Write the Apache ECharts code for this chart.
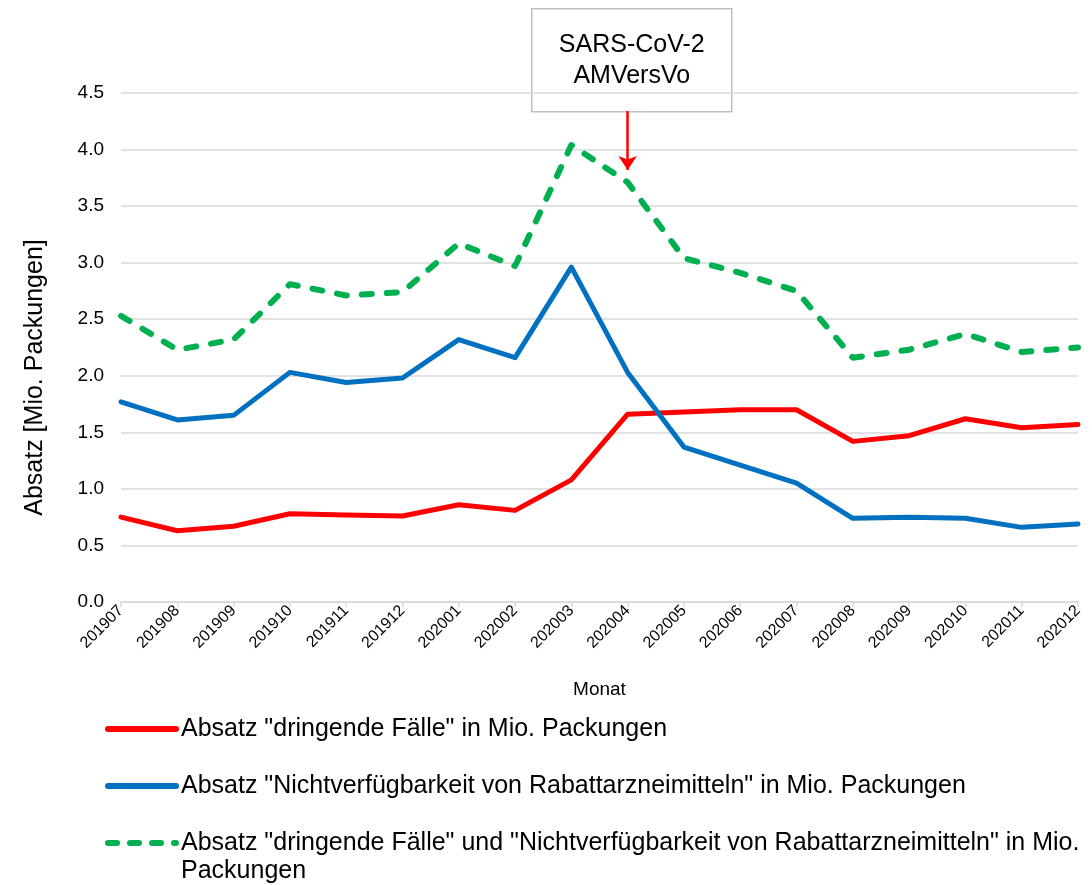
<!DOCTYPE html>
<html>
<head>
<meta charset="utf-8">
<script src="https://cdn.jsdelivr.net/npm/echarts@6/dist/echarts.min.js"></script>
<style>html,body{margin:0;padding:0;background:#fff;}#c{width:1092px;height:885px;}</style>
</head>
<body>
<div id="c"></div>
<script>
const months = ['201907','201908','201909','201910','201911','201912','202001','202002','202003','202004','202005','202006','202007','202008','202009','202010','202011','202012'];
const dringend = [0.75,0.63,0.67,0.78,0.77,0.76,0.86,0.81,1.08,1.66,1.68,1.70,1.70,1.42,1.47,1.62,1.54,1.57];
const nichtverf = [1.77,1.61,1.65,2.03,1.94,1.98,2.32,2.16,2.96,2.03,1.37,1.21,1.05,0.74,0.75,0.74,0.66,0.69];
const gesamt = [2.53,2.23,2.32,2.81,2.71,2.74,3.17,2.97,4.04,3.71,3.04,2.91,2.75,2.16,2.23,2.37,2.21,2.25];
const yTicks = ['0.0','0.5','1.0','1.5','2.0','2.5','3.0','3.5','4.0','4.5'];
const names = ['Absatz "dringende Fälle" in Mio. Packungen',
  'Absatz "Nichtverfügbarkeit von Rabattarzneimitteln" in Mio. Packungen',
  'Absatz "dringende Fälle" und "Nichtverfügbarkeit von Rabattarzneimitteln" in Mio. Packungen'];
const annotText = 'SARS-CoV-2\nAMVersVo';
const annotMonth = '202004';
const arrowFrom = 4.34, arrowTo = 3.82;

const FONT = '"Liberation Sans", Arial, sans-serif';
const chart = echarts.init(document.getElementById('c'), null, {renderer: 'canvas'});
const legendText = {fontFamily: FONT, fontSize: 25, color: '#000', lineHeight: 28};
function mkLegend(name, top, extra, dashed) {
  return Object.assign({
    data: [name], left: 105, top: top, orient: 'vertical', padding: 0,
    itemWidth: 68, itemHeight: 6, itemGap: 0, textStyle: legendText, selectedMode: false,
    itemStyle: {opacity: 0},
    lineStyle: {width: 6, cap: 'round', type: dashed ? [9, 13] : 'solid'}
  }, extra || {});
}
chart.setOption({
  animation: false,
  grid: {left: 121, right: 14, top: 93, bottom: 283, containLabel: false},
  xAxis: {
    type: 'category', data: months, boundaryGap: false,
    name: 'Monat', nameLocation: 'middle', nameGap: 78,
    nameTextStyle: {fontFamily: FONT, fontSize: 19, color: '#000'},
    axisLine: {lineStyle: {color: '#d9d9d9', width: 1.5}},
    axisTick: {show: true, length: 5, lineStyle: {color: '#d9d9d9', width: 1.5}},
    axisLabel: {rotate: 45, fontFamily: FONT, fontSize: 16, color: '#000', margin: 6, interval: 0}
  },
  yAxis: {
    type: 'value', min: 0, max: 4.5, interval: 0.5,
    name: 'Absatz [Mio. Packungen]', nameLocation: 'middle', nameRotate: 90, nameGap: 73,
    nameTextStyle: {fontFamily: FONT, fontSize: 25, color: '#000', padding: [0, 60, 0, 0]},
    axisLine: {show: false}, axisTick: {show: false},
    axisLabel: {fontFamily: FONT, fontSize: 19, color: '#000', margin: 17,
      formatter: (v) => yTicks[Math.round(v / 0.5)] || v.toFixed(1)},
    splitLine: {lineStyle: {color: '#d9d9d9', width: 1.5}}
  },
  legend: [
    mkLegend(names[0], 715),
    mkLegend(names[1], 772),
    mkLegend(names[2], 801, {
      formatter: (n) => '\n' + n.replace(' in Mio. Packungen', ' in Mio.\nPackungen')
    }, true)
  ],
  series: [
    {name: names[0], type: 'line', data: dringend, symbol: 'none', color: '#ff0000',
      lineStyle: {color: '#ff0000', width: 5, cap: 'round', join: 'round'},
      markLine: {silent: true, symbol: ['none', 'arrow'], symbolSize: [14, 14],
        label: {show: false}, emphasis: {disabled: true},
        lineStyle: {color: '#ff0000', width: 2.5, type: 'solid'},
        data: [[{coord: [annotMonth, arrowFrom]}, {coord: [annotMonth, arrowTo]}]]}},
    {name: names[1], type: 'line', data: nichtverf, symbol: 'none', color: '#0070c0',
      lineStyle: {color: '#0070c0', width: 5, cap: 'round', join: 'round'}},
    {name: names[2], type: 'line', data: gesamt, symbol: 'none', color: '#00b050',
      lineStyle: {color: '#00b050', width: 6, type: [10, 15], cap: 'round', join: 'round'}}
  ],
  graphic: [
    {type: 'group', left: 531, top: 8, children: [
      {type: 'rect', shape: {x: 0, y: 0, width: 200, height: 103},
        style: {fill: '#fff', stroke: '#bfbfbf', lineWidth: 1.5}},
      {type: 'text', x: 100, y: 51.5,
        style: {text: annotText, font: '25px ' + FONT, fill: '#000', align: 'center', verticalAlign: 'middle', lineHeight: 31}}
    ]}
  ]
});
</script>
</body>
</html>
